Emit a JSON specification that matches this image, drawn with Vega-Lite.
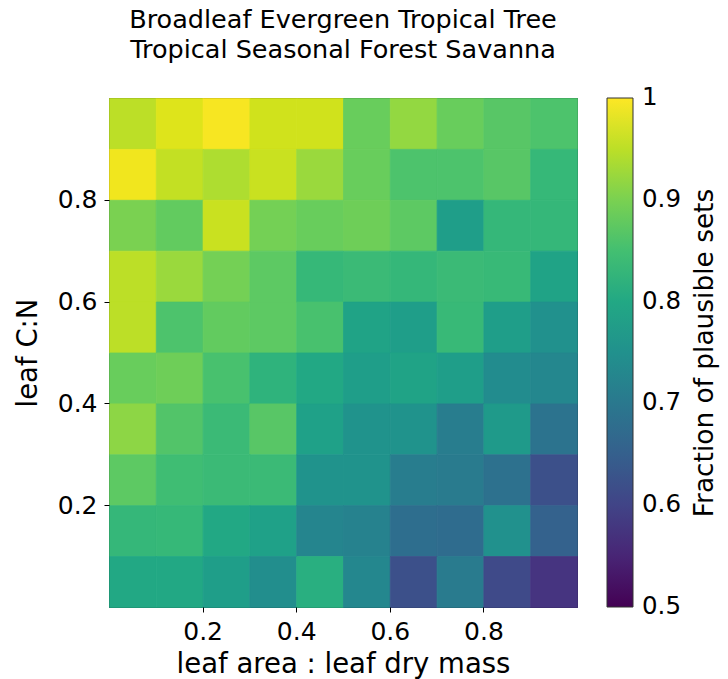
{
  "$schema": "https://vega.github.io/schema/vega-lite/v6.json",
  "width": 468,
  "height": 509,
  "autosize": {"type": "none"},
  "padding": {"left": 109, "top": 98, "right": 151, "bottom": 72},
  "background": "white",
  "title": {
    "text": ["Broadleaf Evergreen Tropical Tree", "Tropical Seasonal Forest Savanna"],
    "font": "DejaVu Sans",
    "fontSize": 25.5,
    "fontWeight": "normal",
    "color": "black",
    "lineHeight": 30,
    "anchor": "middle",
    "frame": "group",
    "baseline": "bottom",
    "offset": 10
  },
  "datasets": {
    "grid": [
      {"area": 0.05, "cn": 0.95, "frac": 0.95}, {"area": 0.15, "cn": 0.95, "frac": 0.975}, {"area": 0.25, "cn": 0.95, "frac": 0.995}, {"area": 0.35, "cn": 0.95, "frac": 0.965}, {"area": 0.45, "cn": 0.95, "frac": 0.965}, {"area": 0.55, "cn": 0.95, "frac": 0.885}, {"area": 0.65, "cn": 0.95, "frac": 0.92}, {"area": 0.75, "cn": 0.95, "frac": 0.885}, {"area": 0.85, "cn": 0.95, "frac": 0.87}, {"area": 0.95, "cn": 0.95, "frac": 0.86},
      {"area": 0.05, "cn": 0.85, "frac": 0.99}, {"area": 0.15, "cn": 0.85, "frac": 0.955}, {"area": 0.25, "cn": 0.85, "frac": 0.94}, {"area": 0.35, "cn": 0.85, "frac": 0.96}, {"area": 0.45, "cn": 0.85, "frac": 0.925}, {"area": 0.55, "cn": 0.85, "frac": 0.885}, {"area": 0.65, "cn": 0.85, "frac": 0.86}, {"area": 0.75, "cn": 0.85, "frac": 0.86}, {"area": 0.85, "cn": 0.85, "frac": 0.87}, {"area": 0.95, "cn": 0.85, "frac": 0.835},
      {"area": 0.05, "cn": 0.75, "frac": 0.9}, {"area": 0.15, "cn": 0.75, "frac": 0.88}, {"area": 0.25, "cn": 0.75, "frac": 0.96}, {"area": 0.35, "cn": 0.75, "frac": 0.895}, {"area": 0.45, "cn": 0.75, "frac": 0.885}, {"area": 0.55, "cn": 0.75, "frac": 0.89}, {"area": 0.65, "cn": 0.75, "frac": 0.875}, {"area": 0.75, "cn": 0.75, "frac": 0.78}, {"area": 0.85, "cn": 0.75, "frac": 0.833}, {"area": 0.95, "cn": 0.75, "frac": 0.833},
      {"area": 0.05, "cn": 0.65, "frac": 0.95}, {"area": 0.15, "cn": 0.65, "frac": 0.925}, {"area": 0.25, "cn": 0.65, "frac": 0.895}, {"area": 0.35, "cn": 0.65, "frac": 0.875}, {"area": 0.45, "cn": 0.65, "frac": 0.835}, {"area": 0.55, "cn": 0.65, "frac": 0.84}, {"area": 0.65, "cn": 0.65, "frac": 0.833}, {"area": 0.75, "cn": 0.65, "frac": 0.84}, {"area": 0.85, "cn": 0.65, "frac": 0.837}, {"area": 0.95, "cn": 0.65, "frac": 0.79},
      {"area": 0.05, "cn": 0.55, "frac": 0.95}, {"area": 0.15, "cn": 0.55, "frac": 0.86}, {"area": 0.25, "cn": 0.55, "frac": 0.88}, {"area": 0.35, "cn": 0.55, "frac": 0.875}, {"area": 0.45, "cn": 0.55, "frac": 0.855}, {"area": 0.55, "cn": 0.55, "frac": 0.79}, {"area": 0.65, "cn": 0.55, "frac": 0.78}, {"area": 0.75, "cn": 0.55, "frac": 0.837}, {"area": 0.85, "cn": 0.55, "frac": 0.78}, {"area": 0.95, "cn": 0.55, "frac": 0.75},
      {"area": 0.05, "cn": 0.45, "frac": 0.885}, {"area": 0.15, "cn": 0.45, "frac": 0.89}, {"area": 0.25, "cn": 0.45, "frac": 0.855}, {"area": 0.35, "cn": 0.45, "frac": 0.825}, {"area": 0.45, "cn": 0.45, "frac": 0.8}, {"area": 0.55, "cn": 0.45, "frac": 0.78}, {"area": 0.65, "cn": 0.45, "frac": 0.79}, {"area": 0.75, "cn": 0.45, "frac": 0.78}, {"area": 0.85, "cn": 0.45, "frac": 0.74}, {"area": 0.95, "cn": 0.45, "frac": 0.73},
      {"area": 0.05, "cn": 0.35, "frac": 0.915}, {"area": 0.15, "cn": 0.35, "frac": 0.865}, {"area": 0.25, "cn": 0.35, "frac": 0.84}, {"area": 0.35, "cn": 0.35, "frac": 0.87}, {"area": 0.45, "cn": 0.35, "frac": 0.785}, {"area": 0.55, "cn": 0.35, "frac": 0.755}, {"area": 0.65, "cn": 0.35, "frac": 0.755}, {"area": 0.75, "cn": 0.35, "frac": 0.71}, {"area": 0.85, "cn": 0.35, "frac": 0.77}, {"area": 0.95, "cn": 0.35, "frac": 0.69},
      {"area": 0.05, "cn": 0.25, "frac": 0.875}, {"area": 0.15, "cn": 0.25, "frac": 0.845}, {"area": 0.25, "cn": 0.25, "frac": 0.84}, {"area": 0.35, "cn": 0.25, "frac": 0.84}, {"area": 0.45, "cn": 0.25, "frac": 0.755}, {"area": 0.55, "cn": 0.25, "frac": 0.755}, {"area": 0.65, "cn": 0.25, "frac": 0.71}, {"area": 0.75, "cn": 0.25, "frac": 0.705}, {"area": 0.85, "cn": 0.25, "frac": 0.685}, {"area": 0.95, "cn": 0.25, "frac": 0.62},
      {"area": 0.05, "cn": 0.15, "frac": 0.833}, {"area": 0.15, "cn": 0.15, "frac": 0.835}, {"area": 0.25, "cn": 0.15, "frac": 0.8}, {"area": 0.35, "cn": 0.15, "frac": 0.785}, {"area": 0.45, "cn": 0.15, "frac": 0.725}, {"area": 0.55, "cn": 0.15, "frac": 0.72}, {"area": 0.65, "cn": 0.15, "frac": 0.68}, {"area": 0.75, "cn": 0.15, "frac": 0.675}, {"area": 0.85, "cn": 0.15, "frac": 0.75}, {"area": 0.95, "cn": 0.15, "frac": 0.655},
      {"area": 0.05, "cn": 0.05, "frac": 0.8}, {"area": 0.15, "cn": 0.05, "frac": 0.8}, {"area": 0.25, "cn": 0.05, "frac": 0.78}, {"area": 0.35, "cn": 0.05, "frac": 0.745}, {"area": 0.45, "cn": 0.05, "frac": 0.815}, {"area": 0.55, "cn": 0.05, "frac": 0.73}, {"area": 0.65, "cn": 0.05, "frac": 0.62}, {"area": 0.75, "cn": 0.05, "frac": 0.705}, {"area": 0.85, "cn": 0.05, "frac": 0.61}, {"area": 0.95, "cn": 0.05, "frac": 0.575}
    ]
  },
  "data": {"name": "grid"},
  "mark": {"type": "rect", "binSpacing": 0, "strokeWidth": 0.8, "stroke": {"expr": "scale('color', datum.frac)"}},
  "encoding": {
    "x": {
      "field": "area",
      "type": "quantitative",
      "bin": {"step": 0.1, "extent": [0, 1]},
      "scale": {"domain": [0, 1], "nice": false},
      "axis": {
        "title": "leaf area : leaf dry mass",
        "values": [0.2, 0.4, 0.6, 0.8],
        "format": ".1f",
        "formatType": "number",
        "labelPadding": 7,
        "titlePadding": 6,
        "labelFlush": false
      }
    },
    "y": {
      "field": "cn",
      "type": "quantitative",
      "bin": {"step": 0.1, "extent": [0, 1]},
      "scale": {"domain": [0, 1], "nice": false},
      "axis": {
        "title": "leaf C:N",
        "values": [0.2, 0.4, 0.6, 0.8],
        "format": ".1f",
        "formatType": "number",
        "labelPadding": 7,
        "titlePadding": 15,
        "labelFlush": false
      }
    },
    "color": {
      "field": "frac",
      "type": "quantitative",
      "scale": {"scheme": "viridis", "domain": [0.5, 1]},
      "legend": {
        "title": "Fraction of plausible sets",
        "orient": "none",
        "legendX": 498,
        "legendY": 0,
        "direction": "vertical",
        "gradientLength": 509,
        "gradientThickness": 26,
        "gradientStrokeColor": "#333333",
        "gradientStrokeWidth": 1,
        "values": [0.5, 0.6, 0.7, 0.8, 0.9, 1],
        "labelExpr": "datum.value == 1 ? '1' : format(datum.value, '.1f')",
        "labelFont": "DejaVu Sans",
        "labelFontSize": 24.5,
        "labelColor": "black",
        "labelOffset": 9,
        "labelBaseline": "middle",
        "labelOverlap": false,
        "titleOrient": "right",
        "titleAnchor": "middle",
        "titleFont": "DejaVu Sans",
        "titleFontSize": 26.4,
        "titleFontWeight": "normal",
        "titleColor": "black",
        "titlePadding": 11,
        "titleLimit": 800,
        "padding": 0,
        "encode": {
          "title": {"update": {"angle": {"value": 270}, "baseline": {"value": "top"}}},
          "labels": {"update": {"baseline": {"value": "middle"}}}
        }
      }
    }
  },
  "config": {
    "font": "DejaVu Sans",
    "view": {"stroke": "black", "strokeWidth": 1},
    "axis": {
      "labelFont": "DejaVu Sans",
      "labelFontSize": 25,
      "labelColor": "black",
      "titleFont": "DejaVu Sans",
      "titleFontSize": 27.5,
      "titleFontWeight": "normal",
      "titleColor": "black",
      "tickColor": "black",
      "tickSize": 5,
      "tickWidth": 1,
      "domain": false,
      "grid": false
    }
  }
}
